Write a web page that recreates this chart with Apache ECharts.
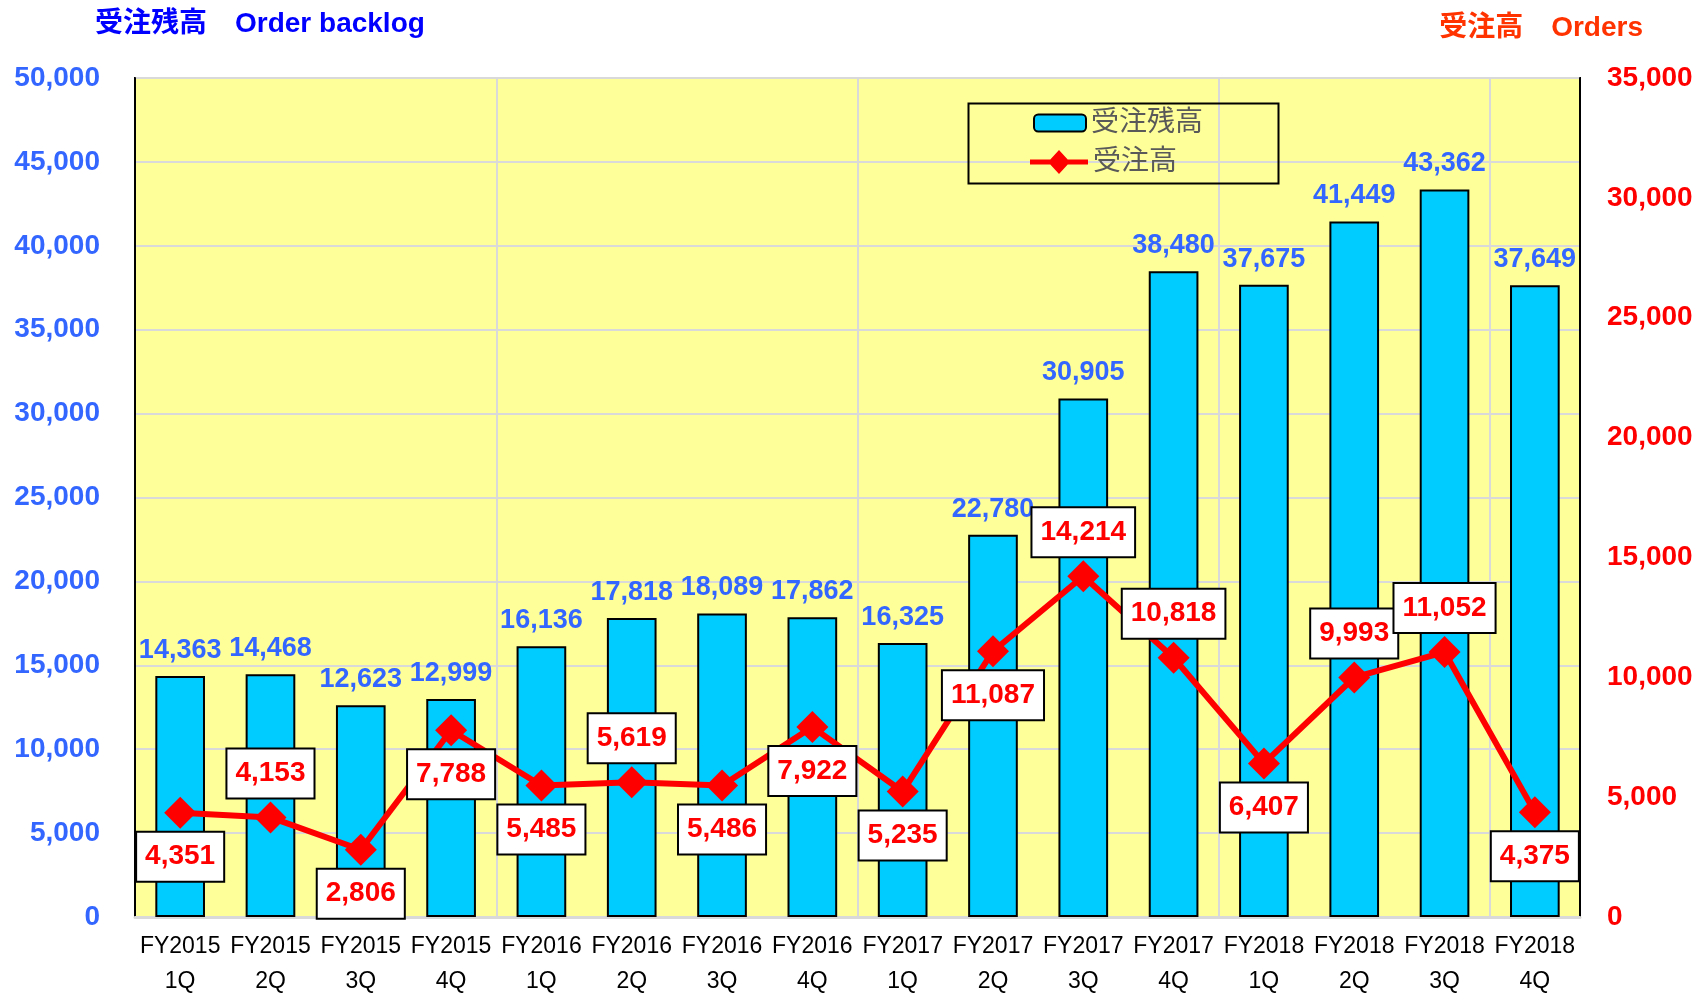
<!DOCTYPE html>
<html>
<head>
<meta charset="utf-8">
<script src="https://cdn.jsdelivr.net/npm/echarts@6/dist/echarts.min.js"></script>
<style>
  html, body { margin: 0; padding: 0; background: #fff; }
  #chart { width: 1706px; height: 993px; }
</style>
</head>
<body>
<div id="chart"></div>
<script>
// データ
const categories = [
  'FY2015\n1Q', 'FY2015\n2Q', 'FY2015\n3Q', 'FY2015\n4Q',
  'FY2016\n1Q', 'FY2016\n2Q', 'FY2016\n3Q', 'FY2016\n4Q',
  'FY2017\n1Q', 'FY2017\n2Q', 'FY2017\n3Q', 'FY2017\n4Q',
  'FY2018\n1Q', 'FY2018\n2Q', 'FY2018\n3Q', 'FY2018\n4Q'
];
const backlog = [14363, 14468, 12623, 12999, 16136, 17818, 18089, 17862,
                 16325, 22780, 30905, 38480, 37675, 41449, 43362, 37649];
const orders = [4351, 4153, 2806, 7788, 5485, 5619, 5486, 7922,
                5235, 11087, 14214, 10818, 6407, 9993, 11052, 4375];
// ラベル位置（受注高）
const orderLabelPos = ['bottom', 'top', 'bottom', 'bottom', 'bottom', 'top', 'bottom', 'bottom',
                       'bottom', 'bottom', 'top', 'top', 'bottom', 'top', 'top', 'bottom'];

const fontFamily = '"Liberation Sans", "Noto Sans CJK JP", sans-serif';
const fmt = (v) => Number(v).toLocaleString('en-US');
// 凡例アイコン（線＋ひし形）
const lineDiamondIcon = 'path://M0,9.5L20.3,9.5L29,0L37.7,9.5L58,9.5L58,14.5L37.7,14.5L29,24L20.3,14.5L0,14.5Z';

let legendText = { color: '#595959', fontSize: 28, lineHeight: 30, fontFamily: fontFamily };

let myChart = echarts.init(document.getElementById('chart'));
let option = {
    backgroundColor: '#fff',
    textStyle: { fontFamily: fontFamily },
    animation: false,
    title: [
        {
            text: '受注残高　Order backlog',
            left: 90,
            top: 5,
            textStyle: { color: '#0000ff', fontSize: 28, fontWeight: 'bold', fontFamily: fontFamily }
        },
        {
            text: '受注高　Orders',
            right: 58,
            top: 9,
            textStyle: { color: '#ff3300', fontSize: 28, fontWeight: 'bold', fontFamily: fontFamily }
        }
    ],
    legend: [
        {
            left: 1033,
            top: 108,
            padding: 0,
            itemWidth: 52,
            itemHeight: 17,
            textStyle: legendText,
            data: ['受注残高']
        },
        {
            left: 1030,
            top: 147,
            padding: 0,
            itemWidth: 58,
            itemHeight: 24,
            textStyle: legendText,
            data: [{ name: '受注高', icon: lineDiamondIcon }]
        }
    ],
    graphic: [
        {   // 凡例の枠
            type: 'rect',
            left: 966,
            top: 101,
            shape: { width: 310, height: 80 },
            style: { fill: 'none', stroke: '#000', lineWidth: 2 },
            z: 10
        }
    ],
    grid: {
        left: 135,
        right: 126,
        top: 78,
        bottom: 76,
        outerBoundsMode: 'none',
        show: true,
        backgroundColor: '#ffff99',
        borderColor: '#000',
        borderWidth: 2
    },
    xAxis: {
        type: 'category',
        data: categories,
        boundaryGap: true,
        axisTick: { show: false },
        axisLine: { lineStyle: { color: '#d9d9d9', width: 3 } },
        splitLine: {
            show: true,
            interval: 3,
            lineStyle: { color: '#d9d9d9', width: 2 }
        },
        axisLabel: {
            color: '#000',
            fontSize: 23,
            lineHeight: 35,
            margin: 12,
            interval: 0
        }
    },
    yAxis: [
        {
            type: 'value',
            min: 0,
            max: 50000,
            interval: 5000,
            axisLine: { show: true, lineStyle: { color: '#000', width: 2 } },
            axisTick: { show: false },
            splitLine: { lineStyle: { color: '#d9d9d9', width: 2 } },
            axisLabel: {
                color: '#3366ff',
                fontSize: 28,
                fontWeight: 'bold',
                margin: 35,
                formatter: fmt
            }
        },
        {
            type: 'value',
            min: 0,
            max: 35000,
            interval: 5000,
            axisLine: { show: true, lineStyle: { color: '#000', width: 2 } },
            axisTick: { show: false },
            splitLine: { show: false },
            axisLabel: {
                color: '#ff0000',
                fontSize: 28,
                fontWeight: 'bold',
                margin: 27,
                formatter: fmt
            }
        }
    ],
    series: [
        {
            name: '受注残高',
            type: 'bar',
            yAxisIndex: 0,
            barWidth: '55%',
            data: backlog,
            itemStyle: { color: '#00ccff', borderColor: '#000', borderWidth: 2 },
            label: {
                show: true,
                position: 'top',
                distance: 12,
                color: '#3366ff',
                fontSize: 27,
                fontWeight: 'bold',
                formatter: (p) => fmt(p.value)
            },
            z: 2
        },
        {
            name: '受注高',
            type: 'line',
            yAxisIndex: 1,
            symbol: 'diamond',
            symbolSize: 32,
            lineStyle: { color: '#ff0000', width: 6 },
            itemStyle: { color: '#ff0000' },
            data: orders.map((v, i) => ({
                value: v,
                label: { position: orderLabelPos[i] }
            })),
            label: {
                show: true,
                distance: 4,
                color: '#ff0000',
                fontSize: 28,
                fontWeight: 'bold',
                backgroundColor: '#fff',
                borderColor: '#000',
                borderWidth: 2,
                padding: [9, 8],
                lineHeight: 30,
                formatter: (p) => fmt(p.value)
            },
            z: 5
        }
    ]
};
myChart.setOption(option);
</script>
</body>
</html>
